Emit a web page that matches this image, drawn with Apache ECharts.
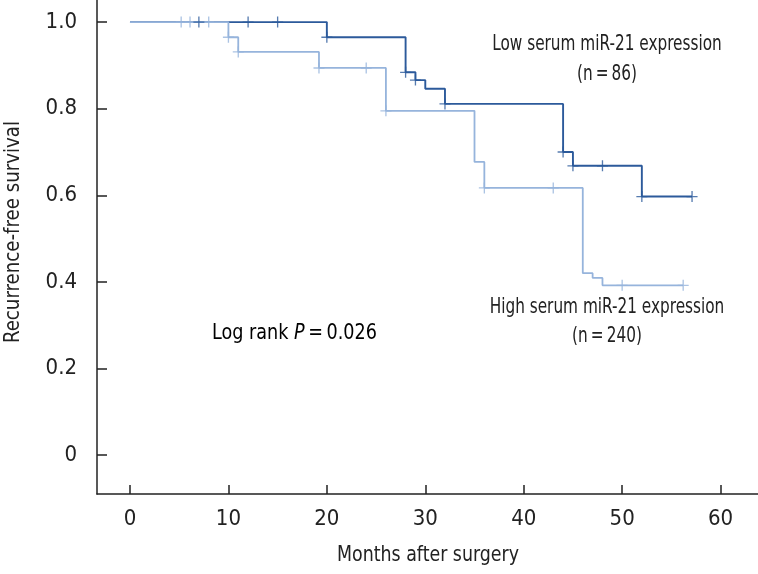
<!DOCTYPE html>
<html>
<head>
<meta charset="utf-8">
<script src="https://cdn.jsdelivr.net/npm/echarts@6/dist/echarts.min.js"></script>
<style>
html,body{margin:0;padding:0;background:#fff;}
#c{width:758px;height:574px;}
</style>
</head>
<body>
<div id="c"></div>
<script>
// Low serum miR-21 expression (n = 86): step curve
const lowTimes = [0, 20, 28, 29, 30, 32, 44, 45, 52, 57.1];
const lowSurv  = [1.0, 0.965, 0.884, 0.866, 0.846, 0.811, 0.700, 0.668, 0.597, 0.597];
const lowCensorTimes = [7, 12, 15, 20, 28, 29, 32, 44, 45, 48, 52, 57.1];

// High serum miR-21 expression (n = 240): step curve
const highTimes = [0, 10, 11, 19.2, 26, 35, 36, 46, 47, 48, 56.2];
const highSurv  = [1.0, 0.965, 0.931, 0.894, 0.795, 0.677, 0.617, 0.420, 0.409, 0.392, 0.392];
const highCensorTimes = [5.2, 6.1, 8, 10, 11, 19.2, 24, 26, 36, 43, 50, 56.2];

const xTicks = [0, 10, 20, 30, 40, 50, 60];
const yTicks = [0, 0.2, 0.4, 0.6, 0.8, 1.0];

const FONT = '"Liberation Sans Narrow", "DejaVu Sans Condensed", "Roboto Condensed", sans-serif';
const DARK = '#2c5a9b';
const LIGHT = '#96b4dc';
const INK = '#222';

function survAt(times, surv, t) {
  let s = surv[0];
  for (let i = 0; i < times.length; i++) { if (times[i] <= t) s = surv[i]; }
  return s;
}
const lowLine = lowTimes.map((t, i) => [t, lowSurv[i]]);
const highLine = highTimes.map((t, i) => [t, highSurv[i]]);
const lowCens = lowCensorTimes.map(t => [t, survAt(lowTimes, lowSurv, t)]);
const highCens = highCensorTimes.map(t => [t, survAt(highTimes, highSurv, t)]);

const plus = 'path://M44,0 H56 V44 H100 V56 H56 V100 H44 V56 H0 V44 H44 Z';

function label(text, x, y, size, sx, rot) {
  return {type: 'text', x: x, y: y, scaleX: sx, rotation: rot || 0, z: 10,
    style: {text: text, font: size + 'px ' + FONT, fill: INK, align: 'center', verticalAlign: 'middle'}};
}

const chart = echarts.init(document.getElementById('c'), null, {renderer: 'canvas'});
chart.setOption({
  animation: false,
  backgroundColor: '#fff',
  grid: {left: 97, right: 0, top: 0, bottom: 80, containLabel: false, outerBoundsMode: 'none'},
  xAxis: {
    type: 'value', min: -3.35, max: 63.8,
    axisLine: {onZero: false, lineStyle: {color: INK, width: 1.5}},
    axisTick: {inside: true, length: 9, customValues: xTicks, lineStyle: {color: INK, width: 1.5}},
    axisLabel: {customValues: xTicks, margin: 14, fontFamily: FONT, fontSize: 22, color: INK},
    splitLine: {show: false}
  },
  yAxis: {
    type: 'value', min: -0.09, max: 1.051,
    axisLine: {onZero: false, lineStyle: {color: INK, width: 1.5}},
    axisTick: {inside: true, length: 10, customValues: yTicks, lineStyle: {color: INK, width: 1.5}},
    axisLabel: {customValues: yTicks, margin: 20, fontFamily: FONT, fontSize: 22, color: INK,
      formatter: v => v === 0 ? '0' : v.toFixed(1)},
    splitLine: {show: false}
  },
  series: [
    {type: 'line', step: 'end', data: lowLine, showSymbol: false, lineStyle: {color: DARK, width: 1.9}, z: 2},
    {type: 'line', step: 'end', data: highLine, showSymbol: false, lineStyle: {color: LIGHT, width: 1.8}, z: 3},
    {type: 'scatter', data: highCens, symbol: plus, symbolSize: 11, itemStyle: {color: LIGHT}, z: 4},
    {type: 'scatter', data: lowCens, symbol: plus, symbolSize: 11, itemStyle: {color: DARK}, z: 5}
  ],
  graphic: [
    label('Months after surgery', 428, 555, 22, 0.88),
    label('Recurrence-free survival', 13, 232, 22, 0.92, Math.PI / 2),
    label('Low serum miR-21 expression', 607, 45, 21, 0.81),
    label('(n\u2009=\u200986)', 607, 75, 21, 0.81),
    label('High serum miR-21 expression', 607, 308, 21, 0.81),
    label('(n\u2009=\u2009240)', 607, 337, 21, 0.81),
    {type: 'text', x: 212, y: 333, scaleX: 0.89, z: 10, style: {
      text: '{a|Log rank }{b|P}{a|\u2009=\u20090.026}',
      verticalAlign: 'middle', align: 'left',
      rich: {
        a: {fontFamily: FONT, fontSize: 22, color: INK},
        b: {fontFamily: FONT, fontSize: 22, fontStyle: 'italic', color: INK}
      }
    }}
  ]
});
</script>
</body>
</html>
